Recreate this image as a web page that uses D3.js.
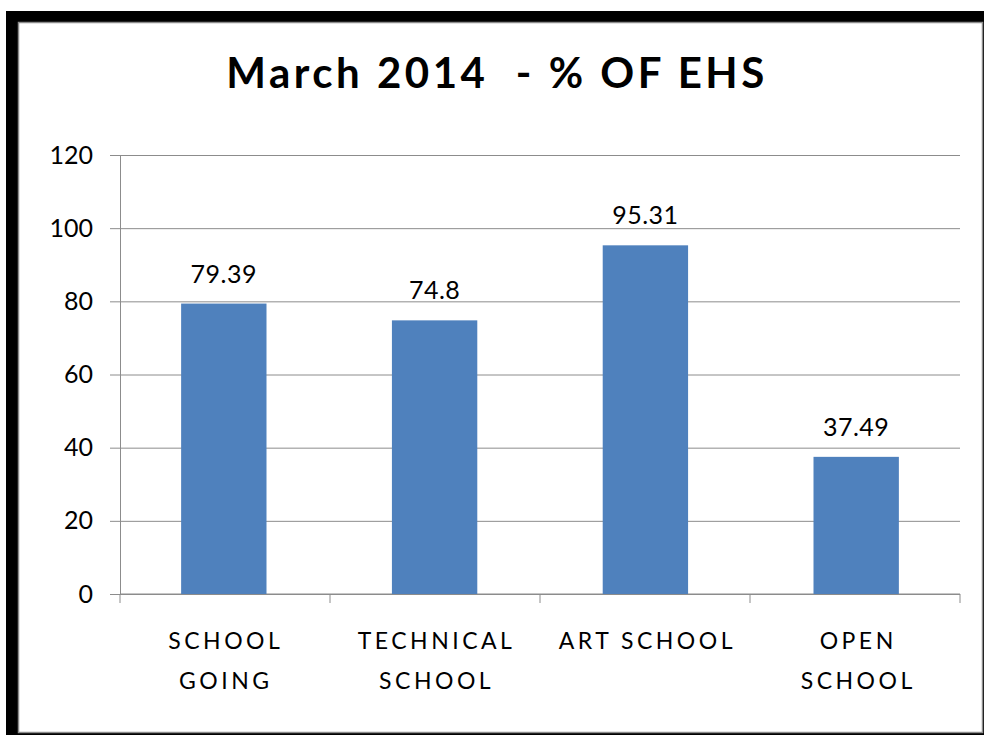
<!DOCTYPE html>
<html>
<head>
<meta charset="utf-8">
<script src="https://cdn.jsdelivr.net/npm/d3@7"></script>
<style>
  body { margin: 0; background: #fff; }
  text { font-family: Lato, "Open Sans", sans-serif; fill: #000; }
  .grid line { stroke: #8c8c8c; stroke-width: 1; }
  .grid path { display: none; }
  .y-axis path, .y-axis line, .x-axis path, .x-axis line { stroke: #8c8c8c; }
</style>
</head>
<body>
<div id="chart"></div>
<script>
// chart data
const categories = [["SCHOOL", "GOING"], ["TECHNICAL", "SCHOOL"], ["ART SCHOOL"], ["OPEN", "SCHOOL"]];
const values = [79.39, 74.8, 95.31, 37.49];
const valueLabels = ["79.39", "74.8", "95.31", "37.49"];
const yTicks = [0, 20, 40, 60, 80, 100, 120];

const W = 984, H = 735;
const margin = {top: 155, right: 24, bottom: 141, left: 120},
    width = 960 - margin.left,
    height = 594 - margin.top;

const svg = d3.select("#chart")
  .append("svg")
    .attr("width", W)
    .attr("height", H);

// frame: thick black shadow on left/top, thin gray border
svg.append("rect")
  .attr("x", 6).attr("y", 11)
  .attr("width", W - 6).attr("height", H - 11)
  .attr("fill", "#000");
svg.append("rect")
  .attr("x", 18.5).attr("y", 22.5)
  .attr("width", 964).attr("height", 710)
  .attr("fill", "#fff")
  .attr("stroke", "#8c8c8c")
  .attr("stroke-width", 1.5);

const g = svg.append("g")
  .attr("transform", `translate(${margin.left}, ${margin.top})`);

const keys = categories.map(c => c.join(" "));

const x = d3.scaleBand()
  .domain(keys)
  .range([0, width])
  .paddingInner(0.595)
  .paddingOuter(0.29);

const y = d3.scaleLinear()
  .domain([0, 120])
  .range([height, 0]);

// gridlines
g.append("g")
  .attr("class", "grid")
  .call(d3.axisLeft(y).tickValues(yTicks).tickSize(-width).tickFormat(""));

// y axis
g.append("g")
  .attr("class", "y-axis")
  .call(d3.axisLeft(y)
    .tickValues(yTicks)
    .tickSizeInner(10)
    .tickSizeOuter(0)
    .tickPadding(17))
  .selectAll("text")
    .style("font-size", "25px")
    .style("font-family", "Lato, sans-serif");

// x axis baseline with boundary ticks
const xa = g.append("g").attr("class", "x-axis")
  .attr("transform", `translate(0, ${height})`);
xa.append("line").attr("x1", 0).attr("x2", width).attr("y1", 0).attr("y2", 0);
const step = x.step();
d3.range(keys.length + 1).forEach(i => {
  const px = i * width / keys.length;
  xa.append("line").attr("x1", px).attr("x2", px).attr("y1", 0).attr("y2", 9);
});

// bars
g.selectAll(".bar")
  .data(values)
  .join("rect")
    .attr("class", "bar")
    .attr("x", (d, i) => x(keys[i]))
    .attr("y", d => y(d))
    .attr("width", x.bandwidth())
    .attr("height", d => height - y(d))
    .attr("fill", "#4f81bd");

// value labels
g.selectAll(".val")
  .data(values)
  .join("text")
    .attr("class", "val")
    .attr("x", (d, i) => x(keys[i]) + x.bandwidth() / 2)
    .attr("y", d => y(d) - 21)
    .attr("text-anchor", "middle")
    .style("font-size", "25px")
    .style("letter-spacing", "0.5px")
    .text((d, i) => valueLabels[i]);

// category labels
categories.forEach((lines, i) => {
  const cx = x(keys[i]) + x.bandwidth() / 2 + 2;
  const t = g.append("text")
    .attr("x", cx)
    .attr("y", height + 55)
    .attr("text-anchor", "middle")
    .style("font-size", "23px")
    .style("letter-spacing", "3.5px");
  lines.forEach((ln, j) => {
    t.append("tspan")
      .attr("x", cx)
      .attr("dy", j === 0 ? 0 : 40)
      .text(ln);
  });
});

// title
svg.append("text")
  .attr("x", 497)
  .attr("y", 88)
  .attr("text-anchor", "middle")
  .style("font-size", "42px")
  .style("font-weight", "bold")
  .style("letter-spacing", "3.5px")
  .style("white-space", "pre")
  .attr("xml:space", "preserve")
  .text("March 2014  - % OF EHS");
</script>
</body>
</html>
